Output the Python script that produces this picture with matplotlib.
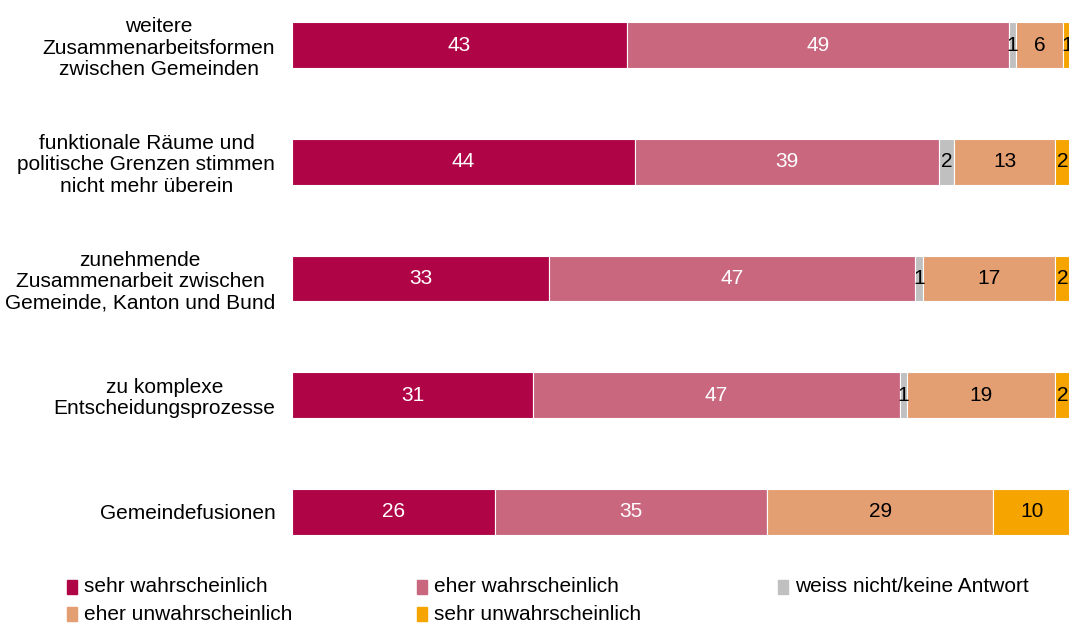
import matplotlib.pyplot as plt
from matplotlib.patches import Rectangle

plt.rcParams["font.family"] = ["Liberation Sans", "DejaVu Sans"]

categories = [
    "weitere\nZusammenarbeitsformen\nzwischen Gemeinden",
    "funktionale Räume und\npolitische Grenzen stimmen\nnicht mehr überein",
    "zunehmende\nZusammenarbeit zwischen\nGemeinde, Kanton und Bund",
    "zu komplexe\nEntscheidungsprozesse",
    "Gemeindefusionen",
]
series_names = [
    "sehr wahrscheinlich",
    "eher wahrscheinlich",
    "weiss nicht/keine Antwort",
    "eher unwahrscheinlich",
    "sehr unwahrscheinlich",
]
sehr_wahrscheinlich = [43, 44, 33, 31, 26]
eher_wahrscheinlich = [49, 39, 47, 47, 35]
weiss_nicht = [1, 2, 1, 1, 0]
eher_unwahrscheinlich = [6, 13, 17, 19, 29]
sehr_unwahrscheinlich = [1, 2, 2, 2, 10]

series = [sehr_wahrscheinlich, eher_wahrscheinlich, weiss_nicht,
          eher_unwahrscheinlich, sehr_unwahrscheinlich]
colors = ["#AF0546", "#C9677F", "#C0C0C0", "#E39E72", "#F5A400"]
text_colors = ["white", "white", "black", "black", "black"]

FS = 15
W, H = 1069, 625
fig = plt.figure(figsize=(W / 100, H / 100), dpi=100)
ax = fig.add_axes([292 / W, (H - 540) / H, 779 / W, 530 / H])

ypos = list(range(len(categories)))
left = [0] * len(categories)
for vals, col, tcol in zip(series, colors, text_colors):
    ax.barh(ypos, vals, left=left, height=0.39, color=col,
            edgecolor="white", linewidth=0.8)
    for y, v, l in zip(ypos, vals, left):
        if v > 0:
            ax.text(l + v / 2, y, str(v), ha="center", va="center",
                    color=tcol, fontsize=FS)
    left = [l + v for l, v in zip(left, vals)]

ax.set_xlim(0, 100)
ax.set_ylim(4.24, -0.30)
ax.set_yticks(ypos)
ax.set_yticklabels(categories, fontsize=FS, ha="right", multialignment="center",
                   linespacing=1.15)
ax.tick_params(axis="y", length=0, pad=12)
ax.set_xticks([])
for s in ax.spines.values():
    s.set_visible(False)

# legend laid out by hand, two rows
leg_pos = [(72, 587), (422, 587), (783, 587), (72, 614), (422, 614)]
for name, col, (px, py) in zip(series_names, colors, leg_pos):
    fig.patches.append(Rectangle(((px - 5) / W, (H - py - 7) / H), 10 / W, 14 / H,
                                 transform=fig.transFigure, color=col))
    fig.text((px + 12) / W, (H - py) / H, name, va="center", ha="left", fontsize=FS)

fig.savefig("out.png", dpi=100)
